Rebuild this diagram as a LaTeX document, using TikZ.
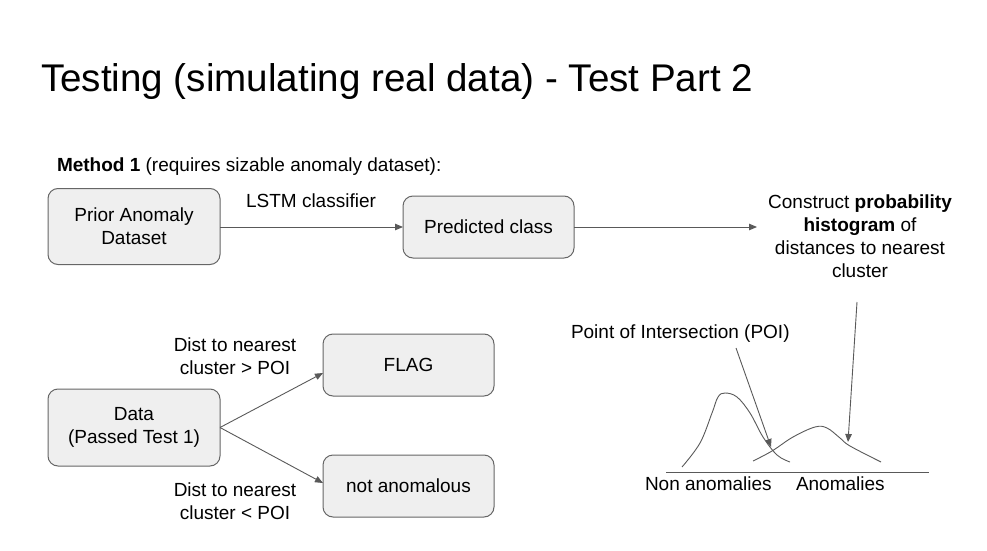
\documentclass[tikz,border=0pt]{standalone}
\usepackage{fontspec}
\setmainfont{Liberation Sans}
\usetikzlibrary{arrows.meta}
\definecolor{boxfill}{HTML}{EFEFEF}
\definecolor{boxline}{HTML}{666666}
\definecolor{wire}{HTML}{595959}
\begin{document}
\begin{tikzpicture}[x=1pt,y=-1pt,
  every node/.style={inner sep=0pt,outer sep=0pt,font=\fontsize{19}{23}\selectfont},
  stepbox/.style={draw=boxline,fill=boxfill,line width=1pt,rounded corners=10pt,align=center},
  link/.style={draw=wire,line width=0.9pt,-{Triangle[length=8pt,width=6.5pt]}},
  curve/.style={draw=wire,line width=0.9pt}]
\useasboundingbox (0,0) rectangle (987,551);

% heading
\node[anchor=base west,font=\fontsize{38.6}{44}\selectfont] (title) at (41,91)
  {Testing (simulating real data) - Test Part 2};
\node[anchor=base west,font=\fontsize{19}{23}\selectfont] (method) at (57,171)
  {\textbf{Method 1} (requires sizable anomaly dataset):};

% top row
\node[stepbox,minimum width=172pt,minimum height=76pt] (prior) at (134,226.5)
  {Prior Anomaly\\Dataset};
\node[stepbox,minimum width=171pt,minimum height=62pt] (pred) at (488.5,227)
  {Predicted class};
\node (lstm) at (311,201) {LSTM classifier};
\node[align=center] (construct) at (860,236.5)
  {Construct \textbf{probability}\\\textbf{histogram} of\\distances to nearest\\cluster};
\coordinate (predend) at (757,227);
\draw[link] (prior.east |- pred.west) -- (pred.west);
\draw[link] (pred.east) -- (predend);

% lower left decision
\node[stepbox,minimum width=172pt,minimum height=77pt] (data) at (134,427.5)
  {Data\\(Passed Test 1)};
\node[stepbox,minimum width=171pt,minimum height=62pt] (flag) at (408.5,365) {FLAG};
\node[stepbox,minimum width=171pt,minimum height=62pt] (normal) at (408.5,486) {not anomalous};
\node[align=center] (gtlabel) at (235,356.5) {Dist to nearest\\cluster > POI};
\node[align=center] (ltlabel) at (235,501.5) {Dist to nearest\\cluster < POI};
\draw[link] (data.east) -- ([yshift=-8pt]flag.west);
\draw[link] (data.east) -- ([yshift=3pt]normal.west);

% distance distributions
\coordinate (axisL) at (666,472);
\coordinate (axisR) at (929,472);
\draw[curve] (axisL) -- (axisR);
\draw[curve] plot[smooth,tension=0.6] coordinates
  {(682,467) (700,443) (712,413) (718,397) (725,393) (737,397) (750,413) (763,437) (777,455) (790,462)};
\draw[curve] plot[smooth,tension=0.6] coordinates
  {(753,461) (772,451) (793,437) (815,427) (827,428) (840,438) (850,446) (881,462)};
\node[anchor=base west] (nonanom) at (645,490) {Non anomalies};
\node[anchor=base west] (anom) at (796,490) {Anomalies};
\node[anchor=base west] (poi) at (571,338) {Point of Intersection (POI)};

\coordinate (poistart) at (736,348);
\coordinate (poiend) at (771,447);
\coordinate (histstart) at (857,302);
\coordinate (histend) at (848,442);
\draw[link] (poistart) -- (poiend);
\draw[link] (histstart) -- (histend);
\end{tikzpicture}
\end{document}
